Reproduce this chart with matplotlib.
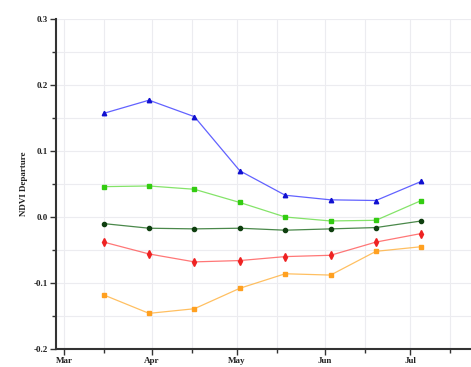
import matplotlib
matplotlib.use("Agg")
import matplotlib.pyplot as plt
import matplotlib.dates as mdates
from datetime import datetime

dates = ["2001-03-15", "2001-03-31", "2001-04-16", "2001-05-02",
         "2001-05-18", "2001-06-03", "2001-06-19", "2001-07-05"]
blue_vals = [0.157, 0.177, 0.152, 0.070, 0.033, 0.026, 0.025, 0.054]
green_vals = [0.046, 0.047, 0.042, 0.022, 0.000, -0.006, -0.005, 0.025]
dkgreen_vals = [-0.010, -0.017, -0.018, -0.017, -0.020, -0.018, -0.016, -0.006]
red_vals = [-0.038, -0.056, -0.068, -0.066, -0.060, -0.058, -0.038, -0.025]
orange_vals = [-0.118, -0.146, -0.139, -0.108, -0.086, -0.088, -0.052, -0.045]
y_ticks = [-0.2, -0.1, 0.0, 0.1, 0.2, 0.3]
y_label = "NDVI Departure"

x = [datetime.strptime(d, "%Y-%m-%d") for d in dates]

fig = plt.figure(figsize=(4.71, 3.67), dpi=100)
ax = fig.add_axes([56/471, 18/367, 1 - 56/471, (349-19)/367])

series = [
    (blue_vals, "#3b3bff", "#1010d0", "^", 3.2),
    (green_vals, "#66dd44", "#33cc11", "s", 3.2),
    (dkgreen_vals, "#1d6b1d", "#0f3f0f", "o", 3.0),
    (red_vals, "#ff5555", "#ee2222", "d", 4.0),
    (orange_vals, "#ffb03a", "#ffa020", "s", 3.0),
]
for vals, lc, mc, mk, ms in series:
    ax.plot(x, vals, color=lc, lw=0.9, alpha=0.8, zorder=3)
    ax.plot(x, vals, ls="none", marker=mk, ms=ms, color=mc, mec=mc, zorder=4)

ax.set_xlim(datetime(2001, 2, 26, 5), datetime(2001, 7, 22, 12))
ax.set_ylim(-0.2, 0.3)

ax.xaxis.set_major_locator(mdates.MonthLocator())
ax.xaxis.set_major_formatter(mdates.DateFormatter("%b"))
ax.xaxis.set_minor_locator(mdates.MonthLocator(bymonthday=15))
ax.set_yticks(y_ticks)
ax.set_yticklabels([f"{v:.1f}" for v in y_ticks])
ax.yaxis.set_minor_locator(matplotlib.ticker.MultipleLocator(0.05))

for lab in ax.get_xticklabels() + ax.get_yticklabels():
    lab.set_fontfamily("Liberation Serif")
    lab.set_fontweight("bold")
    lab.set_fontsize(6.5)
    lab.set_color("#222222")

ax.grid(True, which="both", color="#ececf0", lw=0.8, zorder=0)
ax.tick_params(axis="both", which="both", direction="out", color="#333333",
               width=1.0, pad=2)
ax.tick_params(axis="both", which="major", length=4)
ax.tick_params(axis="both", which="minor", length=3)

for s in ["top", "right"]:
    ax.spines[s].set_visible(False)
for s in ["left", "bottom"]:
    ax.spines[s].set_linewidth(1.5)
    ax.spines[s].set_color("#333333")

ax.set_ylabel(y_label, fontfamily="Liberation Serif", fontweight="bold",
              fontsize=6.5, color="#222222", labelpad=4)

fig.savefig("out.png", dpi=100)
